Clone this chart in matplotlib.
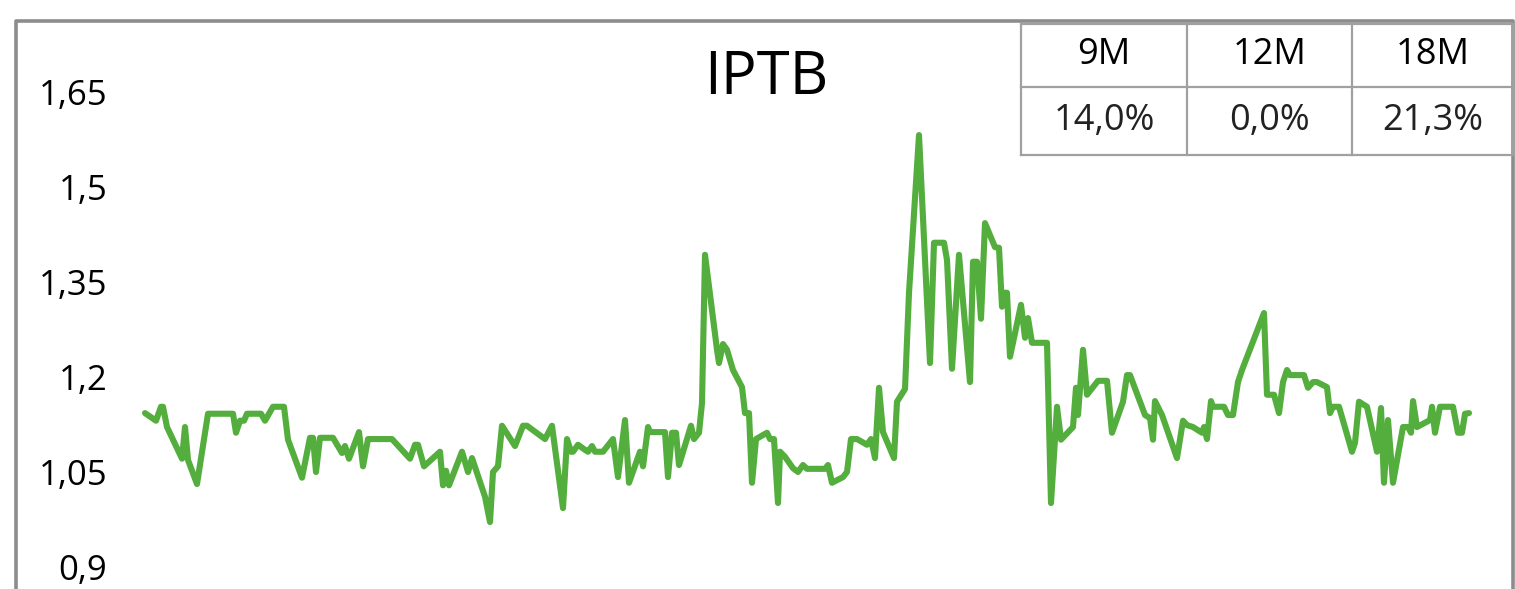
import matplotlib
matplotlib.use("Agg")
from matplotlib import pyplot as plt
from matplotlib.lines import Line2D

plt.rcParams['font.family'] = ['Open Sans', 'DejaVu Sans']

# chart data
title = "IPTB"
periods = ["9M", "12M", "18M"]
returns = ["14,0%", "0,0%", "21,3%"]
y_ticks = [0.9, 1.05, 1.2, 1.35, 1.5, 1.65]

day = [0, 11, 16, 18, 22, 37, 40, 43, 52, 63, 88, 91, 95, 99, 102, 116, 120, 128, 139, 143,
       157, 165, 168, 171, 175, 188, 197, 200, 204, 214, 218,
       223, 247, 265, 270, 273, 279, 295, 298, 301, 304, 317, 323, 327, 340, 345, 348, 353,
       357, 370, 378, 382, 400, 407, 418, 422, 426, 428, 433, 440,
       443, 447, 450, 458, 468, 473, 480, 484, 495, 498, 503, 505, 520, 523, 527, 531, 534,
       546, 549, 554, 557, 560, 572, 574, 578, 582, 588, 597, 600, 604, 607, 611, 622, 625,
       629, 633, 635, 640, 648, 653, 658, 662,
       680, 683, 687, 698, 702, 706, 712, 722, 726, 730, 734, 738, 749, 752, 760, 764, 774,
       785, 789, 799, 802, 807, 814, 825, 828, 832, 836, 840, 850, 854, 857, 859, 862, 865,
       876,
       880, 883, 887, 902, 906, 912, 916, 928, 931, 933, 938, 942, 953, 962, 967, 978, 982,
       985, 1000, 1005, 1008, 1010, 1017, 1032, 1038, 1042, 1048, 1057, 1059, 1062, 1066,
       1068, 1079, 1083, 1088, 1093, 1097,
       1119, 1122, 1129, 1134, 1138, 1142, 1145, 1159, 1163, 1168, 1172, 1182, 1185, 1188,
       1194, 1207, 1210, 1214, 1219, 1222, 1232, 1236, 1239, 1243, 1248, 1258, 1263, 1266,
       1268, 1272, 1285, 1287, 1290, 1295, 1298, 1308, 1313, 1317, 1320, 1324]
price = [1.143, 1.131, 1.153, 1.153, 1.121, 1.071, 1.121, 1.069, 1.031, 1.142, 1.142, 1.112,
         1.131, 1.131, 1.142, 1.142, 1.131, 1.153, 1.153, 1.101, 1.041, 1.104, 1.104, 1.050,
         1.104, 1.104, 1.080, 1.091, 1.071, 1.113, 1.059,
         1.102, 1.102, 1.071, 1.093, 1.093, 1.059, 1.082, 1.029, 1.052, 1.029, 1.082, 1.050,
         1.072, 1.011, 0.971, 1.050, 1.059, 1.123, 1.091, 1.123, 1.123, 1.102, 1.123, 0.993,
         1.102, 1.082, 1.082, 1.093, 1.085,
         1.082, 1.091, 1.082, 1.082, 1.102, 1.042, 1.132, 1.033, 1.082, 1.059, 1.121, 1.113,
         1.113, 1.042, 1.112, 1.112, 1.061, 1.123, 1.102, 1.112, 1.159, 1.393, 1.243, 1.222,
         1.252, 1.243, 1.211, 1.184, 1.143, 1.143, 1.033, 1.102, 1.112, 1.102, 1.102, 1.001,
         1.082, 1.074, 1.056, 1.050, 1.061, 1.055,
         1.055, 1.061, 1.033, 1.042, 1.050, 1.102, 1.102, 1.093, 1.102, 1.072, 1.183, 1.113,
         1.072, 1.161, 1.181, 1.333, 1.582, 1.222, 1.412, 1.412, 1.385, 1.213, 1.393, 1.192,
         1.382, 1.382, 1.292, 1.443, 1.405, 1.404, 1.311, 1.333, 1.333, 1.232, 1.314,
         1.262,
         1.293, 1.254, 1.254, 1.001, 1.153, 1.101, 1.121, 1.183, 1.140, 1.243, 1.172, 1.194,
         1.194, 1.112, 1.161, 1.203, 1.203, 1.140, 1.135, 1.101, 1.162, 1.140, 1.072, 1.131,
         1.124, 1.121, 1.112, 1.121, 1.102, 1.162, 1.153, 1.153, 1.140, 1.140, 1.192, 1.211,
         1.301, 1.172, 1.172, 1.143, 1.192, 1.211, 1.203, 1.203, 1.183, 1.192, 1.192, 1.184,
         1.143, 1.153, 1.153, 1.082, 1.096, 1.161, 1.156, 1.153, 1.082, 1.151, 1.033, 1.132,
         1.033, 1.121, 1.121, 1.112, 1.162, 1.121, 1.132, 1.153, 1.112, 1.153, 1.153, 1.153,
         1.112, 1.112, 1.142, 1.143]

W, H = 1515, 589
fig = plt.figure(figsize=(W / 100, H / 100), dpi=100)

# plot area: x 145..1469 px, y 92 (1.65) .. 567 (0.9)
ax = fig.add_axes([145 / W, (H - 567) / H, (1469 - 145) / W, (567 - 92) / H])
ax.plot(day, price, color="#53ae3d", linewidth=4.4, solid_joinstyle="round",
        solid_capstyle="round", clip_on=False)
ax.set_xlim(day[0], day[-1])
ax.set_ylim(y_ticks[0], y_ticks[-1])
ax.set_yticks(y_ticks)
ax.set_yticklabels([f"{t:g}".replace(".", ",") for t in y_ticks])
ax.tick_params(axis="y", length=0, pad=27, labelsize=25)
ax.set_xticks([])
for s in ax.spines.values():
    s.set_visible(False)
ax.patch.set_alpha(0)

fig.text(766 / W, 1 - 78 / H, title, ha="center", va="center", fontsize=43)

# outer frame (open at bottom)
def px_line(xs, ys, color, lw):
    fig.add_artist(Line2D([x / W for x in xs], [1 - y / H for y in ys],
                          color=color, linewidth=lw, transform=fig.transFigure))

px_line([16, 16, 1513, 1513], [H + 5, 21, 21, H + 5], "#8c8c8c", 2.6)

# return table
cols = [1021, 1187, 1352, 1513]
rows = [24, 87, 155]
tcol = "#a0a0a0"
for y in rows:
    px_line([cols[0], cols[-1]], [y, y], tcol, 1.6)
for x in cols:
    px_line([x, x], [rows[0], rows[-1]], tcol, 1.6)
for i in range(3):
    cx = (cols[i] + cols[i + 1]) / 2
    fig.text(cx / W, 1 - ((rows[0] + rows[1]) / 2) / H, periods[i],
             ha="center", va="center", fontsize=26)
    fig.text(cx / W, 1 - ((rows[1] + rows[2]) / 2) / H, returns[i],
             ha="center", va="center", fontsize=26, color="#222222")

fig.savefig("out.png", dpi=100)
